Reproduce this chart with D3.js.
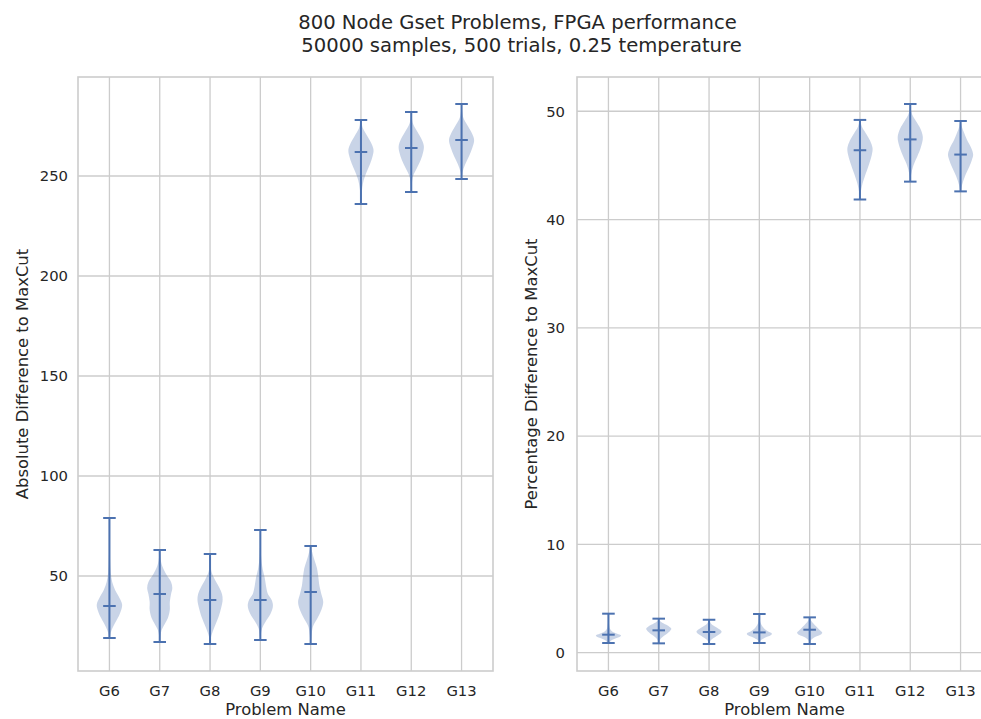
<!DOCTYPE html>
<html>
<head>
<meta charset="utf-8">
<script src="https://cdn.jsdelivr.net/npm/d3@7"></script>
<style>
  html, body { margin: 0; padding: 0; background: #ffffff; }
  svg { display: block; font-family: "DejaVu Sans", sans-serif; }
</style>
</head>
<body>
<svg id="chart" width="981" height="719"></svg>
<script>
// Problem instances
const categories = ["G6", "G7", "G8", "G9", "G10", "G11", "G12", "G13"];

// Absolute difference to MaxCut: extrema and medians per problem
const absMin    = [19, 17, 16, 18, 16, 236, 242, 248.5];
const absMax    = [79, 63, 61, 73, 65, 278, 282, 286];
const absMedian = [35, 41, 38, 38, 42, 262, 264, 268];
// Density profile per problem: [value, relative density]
const absDensity = [
  [[19,0.03],[22,0.12],[26,0.4],[30,0.75],[34,0.98],[36,1.0],[39,0.8],[43,0.45],[47,0.22],[52,0.1],[58,0.05],[65,0.02],[79,0.005]],
  [[17,0.02],[20,0.05],[23,0.15],[26,0.4],[29,0.65],[33,0.8],[37,0.8],[41,0.9],[44,1.0],[47,0.9],[51,0.5],[55,0.2],[58,0.08],[63,0.02]],
  [[16,0.02],[19,0.06],[22,0.2],[26,0.45],[30,0.7],[34,0.88],[38,1.0],[41,0.95],[44,0.75],[48,0.4],[52,0.12],[56,0.04],[61,0.01]],
  [[18,0.02],[21,0.05],[24,0.15],[27,0.4],[31,0.8],[35,1.0],[38,0.9],[41,0.6],[45,0.45],[49,0.35],[53,0.2],[57,0.1],[62,0.04],[67,0.02],[73,0.005]],
  [[16,0.02],[19,0.05],[22,0.1],[25,0.2],[29,0.55],[33,0.85],[37,1.0],[41,0.85],[45,0.7],[50,0.6],[54,0.5],[58,0.3],[62,0.12],[65,0.03]],
  [[236,0.02],[240,0.04],[244,0.1],[248,0.22],[252,0.45],[256,0.72],[260,0.93],[263,1.0],[266,0.85],[270,0.5],[274,0.15],[278,0.02]],
  [[242,0.02],[246,0.05],[250,0.15],[254,0.45],[258,0.75],[262,0.95],[265,1.0],[268,0.85],[272,0.5],[276,0.15],[279,0.05],[282,0.01]],
  [[248.5,0.02],[252,0.08],[256,0.3],[260,0.6],[264,0.85],[268,1.0],[271,0.85],[275,0.5],[279,0.15],[282,0.05],[286,0.01]]
];

// Percentage difference to MaxCut: extrema and medians per problem
const pctMin    = [0.89, 0.86, 0.80, 0.89, 0.80, 41.85, 43.5, 42.6];
const pctMax    = [3.6, 3.14, 3.04, 3.57, 3.26, 49.2, 50.67, 49.1];
const pctMedian = [1.66, 2.06, 1.91, 1.87, 2.12, 46.4, 47.4, 46.0];
const pctDensity = [
  [[0.89,0.05],[1.1,0.2],[1.3,0.55],[1.5,0.95],[1.6,1.0],[1.75,0.7],[1.95,0.3],[2.2,0.12],[2.6,0.05],[3.0,0.02],[3.6,0.005]],
  [[0.86,0.02],[1.1,0.06],[1.4,0.25],[1.7,0.6],[2.0,0.9],[2.2,1.0],[2.45,0.8],[2.7,0.4],[2.9,0.12],[3.14,0.02]],
  [[0.8,0.02],[1.05,0.08],[1.3,0.3],[1.6,0.7],[1.9,1.0],[2.1,0.9],[2.4,0.5],[2.7,0.15],[3.04,0.02]],
  [[0.89,0.02],[1.1,0.08],[1.35,0.4],[1.6,0.9],[1.75,1.0],[1.95,0.7],[2.2,0.4],[2.5,0.2],[2.8,0.08],[3.2,0.02],[3.57,0.005]],
  [[0.8,0.02],[1.1,0.08],[1.4,0.35],[1.65,0.85],[1.85,1.0],[2.1,0.8],[2.4,0.55],[2.7,0.3],[3.0,0.1],[3.26,0.02]],
  [[41.85,0.02],[42.5,0.06],[43.3,0.2],[44.2,0.45],[45.2,0.75],[46.0,0.95],[46.6,1.0],[47.3,0.8],[48.0,0.45],[48.6,0.15],[49.2,0.02]],
  [[43.5,0.02],[44.2,0.08],[45.0,0.25],[45.8,0.55],[46.7,0.85],[47.6,1.0],[48.4,0.8],[49.1,0.45],[49.7,0.15],[50.2,0.05],[50.67,0.01]],
  [[42.6,0.03],[43.2,0.12],[44.0,0.35],[44.9,0.7],[45.5,0.9],[46.0,1.0],[46.6,0.85],[47.4,0.5],[48.1,0.25],[48.6,0.1],[49.1,0.02]]
];

const absTicks = [50, 100, 150, 200, 250];
const pctTicks = [0, 10, 20, 30, 40, 50];

const titleLines = ["800 Node Gset Problems, FPGA performance", "50000 samples, 500 trials, 0.25 temperature"];

const BLUE = "#4c72b0";
const GRID = "#cccccc";
const TEXT = "#262626";

const svg = d3.select("#chart");

// Figure title
svg.append("text").attr("x", 517.5).attr("y", 29)
  .attr("text-anchor", "middle").attr("font-size", 19.6).attr("fill", TEXT)
  .text(titleLines[0]);
svg.append("text").attr("x", 521.5).attr("y", 52)
  .attr("text-anchor", "middle").attr("font-size", 19.6).attr("fill", TEXT)
  .text(titleLines[1]);

function panel(opts) {
  const {x0, x1, y0, y1, mins, maxs, medians, density, ticks, yLabel, yLabelX, tickPad} = opts;
  const g = svg.append("g");

  // Positions 1..n with half-width margins, as in a violin plot
  const x = d3.scaleLinear().domain([0.375, categories.length + 0.625]).range([x0, x1]);
  const lo = d3.min(mins), hi = d3.max(maxs), pad = (hi - lo) * 0.05;
  const y = d3.scaleLinear().domain([lo - pad, hi + pad]).range([y1, y0]);

  const pos = categories.map((c, i) => i + 1);

  // Grid lines
  g.append("g").selectAll("line").data(ticks).join("line")
    .attr("x1", x0).attr("x2", x1)
    .attr("y1", d => y(d)).attr("y2", d => y(d))
    .attr("stroke", GRID).attr("stroke-width", 1.3);
  g.append("g").selectAll("line").data(pos).join("line")
    .attr("x1", d => x(d)).attr("x2", d => x(d))
    .attr("y1", y0).attr("y2", y1)
    .attr("stroke", GRID).attr("stroke-width", 1.3);

  // Frame
  g.append("rect").attr("x", x0).attr("y", y0)
    .attr("width", x1 - x0).attr("height", y1 - y0)
    .attr("fill", "none").attr("stroke", GRID).attr("stroke-width", 1.6);

  // Violin bodies: each density scaled to a max half-width of 0.25 units
  const halfUnit = x(1.25) - x(1);
  density.forEach((prof, i) => {
    const cx = x(pos[i]);
    const peak = d3.max(prof, d => d[1]);
    const area = d3.area()
      .y(d => y(d[0]))
      .x0(d => cx - d[1] / peak * halfUnit)
      .x1(d => cx + d[1] / peak * halfUnit)
      .curve(d3.curveCatmullRom.alpha(0.5));
    g.append("path").attr("d", area(prof))
      .attr("fill", BLUE).attr("fill-opacity", 0.3).attr("stroke", "none");
  });

  // Extrema bars, caps and medians
  const capHalf = x(1.125) - x(1);
  const lines = g.append("g").attr("stroke", BLUE).attr("stroke-width", 2);
  pos.forEach((p, i) => {
    const cx = x(p);
    lines.append("line").attr("x1", cx).attr("x2", cx)
      .attr("y1", y(mins[i])).attr("y2", y(maxs[i]));
    [mins[i], maxs[i], medians[i]].forEach(v => {
      lines.append("line").attr("x1", cx - capHalf).attr("x2", cx + capHalf)
        .attr("y1", y(v)).attr("y2", y(v));
    });
  });

  // Tick labels
  g.append("g").selectAll("text").data(ticks).join("text")
    .attr("x", x0 - tickPad).attr("y", d => y(d))
    .attr("dy", "0.36em").attr("text-anchor", "end")
    .attr("font-size", 14.8).attr("fill", TEXT)
    .text(d => d);
  g.append("g").selectAll("text").data(categories).join("text")
    .attr("x", (d, i) => x(pos[i])).attr("y", y1 + 25)
    .attr("text-anchor", "middle")
    .attr("font-size", 14.8).attr("fill", TEXT)
    .text(d => d);

  // Axis labels
  g.append("text").attr("x", (x0 + x1) / 2).attr("y", y1 + 44)
    .attr("text-anchor", "middle").attr("font-size", 16.4).attr("fill", TEXT)
    .text("Problem Name");
  g.append("text")
    .attr("transform", `translate(${yLabelX},${(y0 + y1) / 2}) rotate(-90)`)
    .attr("text-anchor", "middle").attr("font-size", 16.4).attr("fill", TEXT)
    .text(yLabel);
}

panel({x0: 78, x1: 493, y0: 77, y1: 671,
  mins: absMin, maxs: absMax, medians: absMedian, density: absDensity,
  ticks: absTicks, yLabel: "Absolute Difference to MaxCut", yLabelX: 28, tickPad: 10});

panel({x0: 577, x1: 992, y0: 77, y1: 671,
  mins: pctMin, maxs: pctMax, medians: pctMedian, density: pctDensity,
  ticks: pctTicks, yLabel: "Percentage Difference to MaxCut", yLabelX: 537, tickPad: 12});
</script>
</body>
</html>
